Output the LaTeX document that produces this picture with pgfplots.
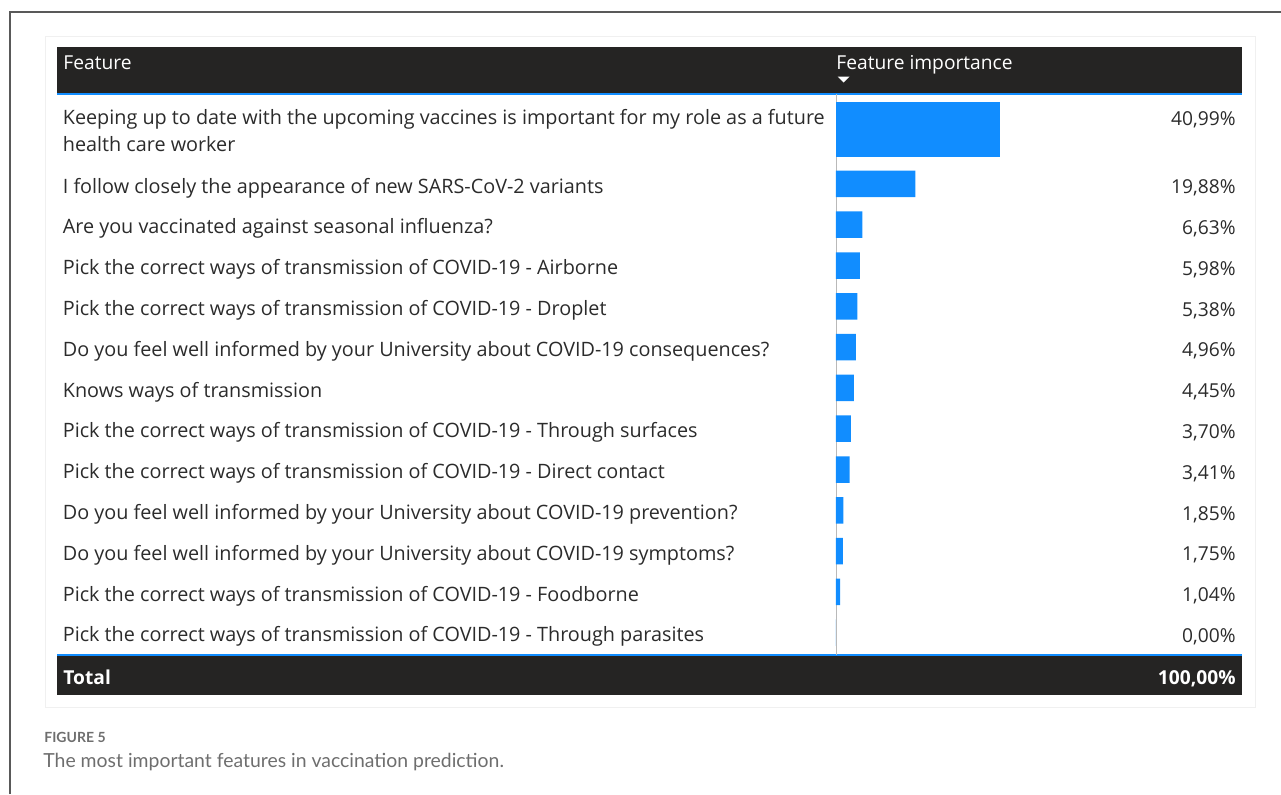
\documentclass[border=0pt]{standalone}
\usepackage{fontspec}
\setmainfont{Open Sans}
\newfontfamily\capfont{Lato}
\usepackage{pgfplots}
\pgfplotsset{compat=1.18}
\definecolor{pbiblue}{HTML}{118DFF}
\definecolor{pbidark}{HTML}{252423}
\definecolor{rowtext}{HTML}{2B2B2B}
\definecolor{capgray}{HTML}{6E6E6E}

% row centres in pixels from the top of the image (first row holds two lines)
\def\leftticks{126.2,183.9,224.7,265.5,306.3,347.1,387.9,428.7,469.5,510.3,551.1,591.9,632.7}
\def\rightticks{132.2,183.9,224.7,265.5,306.3,347.1,387.9,428.7,469.5,510.3,551.1,591.9,632.7}

\begin{document}
\begin{tikzpicture}[x=0.5pt,y=-0.5pt]
\path[use as bounding box] (0,0) rectangle (1281,794);
% page frame
\draw[gray!70!black, line width=0.6pt] (10,794) -- (10,12) -- (1281,12);
\draw[black!6, line width=0.5pt] (45,36) rectangle (1255,707);
% header
\fill[pbidark] (57,47) rectangle (1242,94);
\draw[pbiblue, line width=0.9pt] (57,94) -- (1242,94);
\node[anchor=base west, inner sep=0pt, text=white, font=\fontsize{9.6}{11}\selectfont] at (63,69.5) {Feature};
\node[anchor=base west, inner sep=0pt, text=white, font=\fontsize{9.6}{11}\selectfont] at (836,69.5) {Feature importance};
\fill[white] (837.5,76.5) -- (849.5,76.5) -- (843.5,82.5) -- cycle;
% footer
\fill[pbidark] (57,655) rectangle (1242,695);
\draw[pbiblue, line width=0.9pt] (57,655) -- (1242,655);
\node[anchor=base west, inner sep=0pt, text=white, font=\fontsize{9.6}{11}\selectfont\bfseries] at (63,684.5) {Total};
\node[anchor=base east, inner sep=0pt, text=white, font=\fontsize{9.6}{11}\selectfont\bfseries] at (1236,684.5) {100,00\%};
% caption
\node[anchor=base west, inner sep=0pt, text=capgray, font=\capfont\fontsize{7}{8}\selectfont\bfseries] at (44,742.7) {FIGURE 5};
\node[anchor=base west, inner sep=0pt, text=capgray, font=\capfont\fontsize{9.7}{11}\selectfont] at (43,767.7) {The most important features in vaccination prediction.};

\coordinate (axorigin) at (836,655);

\begin{axis}[
    at={(axorigin)}, anchor=south west,
    scale only axis, width=203pt, height=280.5pt,
    xmin=0, xmax=101.75,
    ymin=94, ymax=655, y dir=reverse,
    axis x line=none,
    axis y line=left,
    y axis line style={draw=gray!55, -},
    ytick=\leftticks,
    ytick style={draw=none},
    yticklabels={
        {Keeping up to date with the upcoming vaccines is important for my role as a future\\health care worker},
        {I follow closely the appearance of new SARS-CoV-2 variants},
        {Are you vaccinated against seasonal influenza?},
        {Pick the correct ways of transmission of COVID-19 - Airborne},
        {Pick the correct ways of transmission of COVID-19 - Droplet},
        {Do you feel well informed by your University about COVID-19 consequences?},
        {Knows ways of transmission},
        {Pick the correct ways of transmission of COVID-19 - Through surfaces},
        {Pick the correct ways of transmission of COVID-19 - Direct contact},
        {Do you feel well informed by your University about COVID-19 prevention?},
        {Do you feel well informed by your University about COVID-19 symptoms?},
        {Pick the correct ways of transmission of COVID-19 - Foodborne},
        {Pick the correct ways of transmission of COVID-19 - Through parasites}},
    yticklabel style={anchor=west, xshift=-382.5pt, yshift=-2pt, align=left, inner sep=0pt,
        text=rowtext, font=\fontsize{9.9}{13.6}\selectfont},
    xbar, bar shift=0,
]
\addplot[fill=pbiblue, draw=none, bar width=55] coordinates {(40.99,129.2)};
\addplot[fill=pbiblue, draw=none, bar width=26.5] coordinates {
    (19.88,183.9)
    (6.63,224.7)
    (5.98,265.5)
    (5.38,306.3)
    (4.96,347.1)
    (4.45,387.9)
    (3.70,428.7)
    (3.41,469.5)
    (1.85,510.3)
    (1.75,551.1)
    (1.04,591.9)
    (0.00,632.7)
};
\end{axis}

\begin{axis}[
    at={(axorigin)}, anchor=south west,
    scale only axis, width=203pt, height=280.5pt,
    xmin=0, xmax=101.75,
    ymin=94, ymax=655, y dir=reverse,
    axis x line=none,
    axis y line*=right,
    y axis line style={draw=none},
    ytick=\rightticks,
    ytick style={draw=none},
    yticklabels={{40,99\%\\\strut},{19,88\%},{6,63\%},{5,98\%},{5,38\%},{4,96\%},{4,45\%},
        {3,70\%},{3,41\%},{1,85\%},{1,75\%},{1,04\%},{0,00\%}},
    yticklabel style={anchor=east, xshift=-3pt, yshift=-2pt, inner sep=0pt, align=right,
        text=rowtext, font=\fontsize{9.6}{13.6}\selectfont},
]
\end{axis}
\end{tikzpicture}
\end{document}
